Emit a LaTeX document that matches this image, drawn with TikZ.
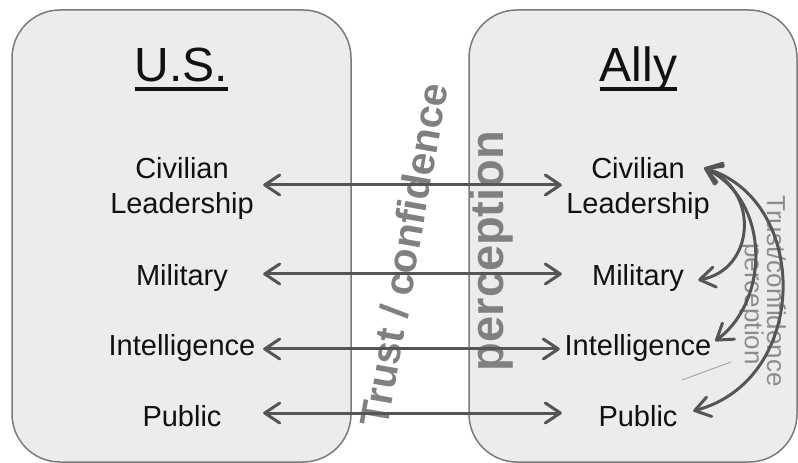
\documentclass[tikz,border=0pt]{standalone}
\usepackage{fontspec}
\setmainfont{Liberation Sans}
\usetikzlibrary{arrows.meta}
\definecolor{boxfill}{HTML}{ECECEC}
\definecolor{boxline}{HTML}{7A7A7A}
\definecolor{arrowc}{HTML}{555555}
\definecolor{midtext}{HTML}{808080}
\definecolor{sidetext}{HTML}{8C8C8C}
\definecolor{thinline}{HTML}{A8A8A8}
\definecolor{ink}{HTML}{111111}
\begin{document}
\begin{tikzpicture}[x=1bp,y=-1bp,
  panel/.style={draw=boxline, fill=boxfill, line width=1.5bp, rounded corners=48bp},
  title/.style={font=\fontsize{48bp}{56bp}\selectfont, text=ink, inner sep=0pt, anchor=base},
  lab/.style={font=\fontsize{29bp}{35bp}\selectfont, text=ink, inner sep=0pt, align=center},
  single/.style={text height=21bp, text depth=6bp, anchor=base},
  lefttext/.style={lab, minimum width=162bp},
  righttext/.style={lab, minimum width=152bp},
  link/.style={draw=arrowc, line width=3bp, line cap=round,
    {Straight Barb[length=15bp,width=20bp,round]}-{Straight Barb[length=15bp,width=20bp,round]}},
  midlabel/.style={text=midtext, inner sep=0pt},
  sidelabel/.style={text=sidetext, inner sep=0pt, font=\fontsize{26bp}{30bp}\selectfont}
]
\useasboundingbox (0,0) rectangle (798,463);

% panels
\draw[panel] (12,10) rectangle (351,462);
\draw[panel] (469,10) rectangle (797,462);

% titles
\node[title] (us) at (181.5,81.7) {U.S.};
\node[title] (ally) at (638.5,81.7) {Ally};
\draw[ink, line width=3.4bp] ([yshift=-7.3bp]us.base west) -- ([yshift=-7.3bp]us.base east);
\draw[ink, line width=3.4bp] ([yshift=-7.3bp]ally.base west) -- ([yshift=-7.3bp]ally.base east);

% middle rotated labels
\node[midlabel, rotate=80, font=\bfseries\fontsize{40.6bp}{48bp}\selectfont] (tc) at (404,255) {Trust / confidence};
\node[midlabel, rotate=90, font=\bfseries\fontsize{47bp}{56bp}\selectfont] (pc) at (491,251) {perception};

% left column
\node[lefttext] (lciv) at (182,189) {Civilian\\Leadership};
\node[lefttext, single] (lmil) at (182,285.5) {Military};
\node[lefttext, single] (lint) at (182,355.5) {Intelligence};
\node[lefttext, single] (lpub) at (182,426.5) {Public};

% right column
\node[righttext] (rciv) at (638,189) {Civilian\\Leadership};
\node[righttext, single] (rmil) at (638,285.5) {Military};
\node[righttext, single] (rint) at (638,355.5) {Intelligence};
\node[righttext, single] (rpub) at (638,426.5) {Public};

% horizontal connectors
\draw[link] ([yshift=4bp]lciv.east) -- ([yshift=4bp]rciv.west);
\draw[link] ([yshift=4bp]lmil.east) -- ([yshift=4bp]rmil.west);
\draw[link] ([yshift=-1bp]lint.east) -- ([yshift=-1bp,xshift=-2bp]rint.west);
\draw[link] ([yshift=6bp]lpub.east) -- ([yshift=6bp]rpub.west);

% right side labels
\node[sidelabel, rotate=-90] (rp) at (751.5,304) {perception};
\node[sidelabel, rotate=-90] (rt) at (776.5,291) {Trust/confidence};

% curved connectors
\coordinate (ctop) at ([xshift=-10bp,yshift=21bp]rciv.east);
\draw[link] (ctop) .. controls +(56,22) and +(57,-10) .. ([xshift=-16bp,yshift=-2bp]rmil.east);
\draw[link] (ctop) .. controls +(66,32) and +(55,-41) .. ([xshift=1bp,yshift=7bp]rint.east);
\draw[link] (ctop) .. controls +(106,32) and +(117,-31) .. ([xshift=-21bp,yshift=8bp]rpub.east);

% thin stray line
\draw[thinline, line width=1bp] (682,380) -- (731,362);
\end{tikzpicture}
\end{document}
